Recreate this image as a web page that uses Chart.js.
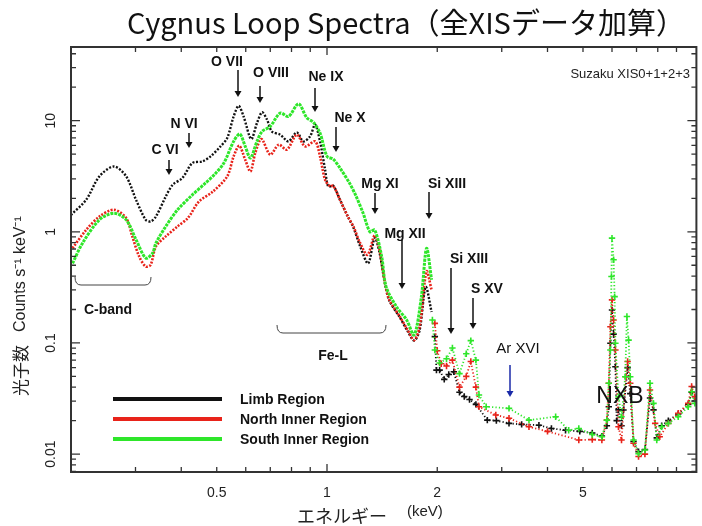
<!DOCTYPE html>
<html>
<head>
<meta charset="utf-8">
<script src="https://cdn.jsdelivr.net/npm/chart.js@4"></script>
<style>
  html, body { margin: 0; padding: 0; background: #fff; }
</style>
</head>
<body>
<canvas id="spec" width="702" height="526"></canvas>
<script>
// [energy keV, counts s-1 keV-1]
const limbSoft = [
  [0.200, 1.42], [0.220, 1.94], [0.239, 3.15], [0.262, 3.87], [0.283, 3.15],
  [0.301, 1.94], [0.320, 1.28], [0.330, 1.24], [0.341, 1.37], [0.363, 2.08],
  [0.379, 2.65], [0.403, 3.05], [0.429, 4.16], [0.457, 4.30], [0.481, 4.77],
  [0.512, 5.87], [0.534, 6.98], [0.556, 10.9], [0.574, 13.6], [0.592, 10.9],
  [0.621, 6.84], [0.644, 9.53], [0.665, 11.9], [0.686, 10.2], [0.707, 8.0],
  [0.745, 7.48], [0.785, 6.51], [0.827, 7.85], [0.862, 6.51], [0.899, 7.22],
  [0.928, 9.2], [0.957, 6.51], [0.988, 3.62], [1.008, 2.56], [1.04, 2.6],
  [1.085, 1.94], [1.14, 1.37], [1.18, 1.10], [1.23, 0.75], [1.295, 0.52],
  [1.35, 0.88], [1.39, 0.66], [1.44, 0.34], [1.48, 0.24], [1.58, 0.17],
  [1.66, 0.128], [1.73, 0.105], [1.79, 0.13], [1.86, 0.32], [1.93, 0.19]
];
const limbHard = [
  [1.97, 0.114], [1.99, 0.057], [2.03, 0.057], [2.09, 0.047], [2.15, 0.052],
  [2.22, 0.055], [2.30, 0.036], [2.37, 0.033], [2.45, 0.031], [2.55, 0.028],
  [2.74, 0.0202], [2.9, 0.020], [3.14, 0.0189], [3.4, 0.0185], [3.79, 0.0182],
  [4.1, 0.017], [4.48, 0.0164], [4.9, 0.016], [5.3, 0.0155], [5.63, 0.0145],
  [5.81, 0.018], [5.88, 0.0267], [5.94, 0.0993], [6.0, 0.198], [6.06, 0.12],
  [6.13, 0.061], [6.18, 0.02], [6.25, 0.025], [6.37, 0.018], [6.45, 0.0249],
  [6.62, 0.06], [6.73, 0.035], [6.87, 0.013], [7.09, 0.0105], [7.38, 0.011],
  [7.62, 0.032], [7.79, 0.025], [7.95, 0.014], [8.2, 0.018], [8.55, 0.02],
  [9.1, 0.023], [9.69, 0.028], [9.9, 0.036], [10.1, 0.03]
];
const northSoft = [
  [0.202, 0.713], [0.220, 1.04], [0.239, 1.37], [0.262, 1.58], [0.283, 1.33],
  [0.294, 0.91], [0.307, 0.60], [0.320, 0.487], [0.330, 0.505], [0.341, 0.737],
  [0.363, 0.91], [0.391, 1.12], [0.417, 1.33], [0.447, 1.87], [0.488, 2.3],
  [0.534, 3.15], [0.556, 4.77], [0.576, 5.95], [0.598, 4.45], [0.618, 3.49],
  [0.637, 5.12], [0.662, 6.84], [0.70, 4.94], [0.738, 6.08], [0.777, 5.48],
  [0.827, 7.48], [0.871, 5.87], [0.928, 6.51], [0.957, 4.77], [0.988, 2.94],
  [1.02, 2.56], [1.04, 2.6], [1.085, 1.94], [1.14, 1.37], [1.18, 1.12],
  [1.23, 0.80], [1.29, 0.62], [1.35, 0.93], [1.39, 0.69], [1.44, 0.345],
  [1.48, 0.244], [1.58, 0.173], [1.66, 0.131], [1.73, 0.106], [1.79, 0.14],
  [1.87, 0.44], [1.93, 0.30]
];
const northHard = [
  [1.97, 0.15], [2.0, 0.085], [2.05, 0.065], [2.12, 0.062], [2.2, 0.070],
  [2.3, 0.040], [2.4, 0.050], [2.47, 0.068], [2.55, 0.04], [2.6, 0.0267],
  [2.89, 0.0225], [3.14, 0.021], [3.56, 0.0176], [4.0, 0.016], [4.87, 0.0134],
  [5.3, 0.0135], [5.63, 0.0134], [5.81, 0.0202], [5.88, 0.0434], [5.94, 0.140],
  [6.0, 0.244], [6.06, 0.161], [6.13, 0.0865], [6.25, 0.0176], [6.37, 0.0134],
  [6.55, 0.0497], [6.62, 0.068], [6.73, 0.0434], [6.87, 0.0125], [7.09, 0.0095],
  [7.38, 0.010], [7.62, 0.0377], [7.87, 0.0189], [8.1, 0.0143], [8.55, 0.0189],
  [9.1, 0.0233], [9.69, 0.0286], [9.9, 0.0405], [10.1, 0.0328]
];
const southSoft = [
  [0.202, 0.52], [0.215, 0.79], [0.239, 1.28], [0.262, 1.47], [0.283, 1.28],
  [0.301, 0.85], [0.320, 0.58], [0.334, 0.643], [0.341, 0.79], [0.363, 1.12],
  [0.391, 1.58], [0.429, 2.15], [0.466, 2.75], [0.494, 3.3], [0.523, 4.16],
  [0.556, 6.51], [0.578, 7.59], [0.598, 5.87], [0.618, 4.61], [0.644, 6.51],
  [0.665, 8.0], [0.70, 8.89], [0.745, 11.7], [0.785, 10.9], [0.836, 14.2],
  [0.881, 10.6], [0.918, 9.66], [0.957, 7.75], [1.0, 4.77], [1.04, 4.5],
  [1.085, 3.75], [1.155, 2.7], [1.2, 2.1], [1.255, 1.47], [1.31, 1.0],
  [1.35, 1.04], [1.41, 0.60], [1.45, 0.32], [1.55, 0.21], [1.65, 0.161],
  [1.73, 0.118], [1.81, 0.26], [1.87, 0.71], [1.93, 0.37]
];
const southHard = [
  [1.94, 0.161], [1.97, 0.0865], [2.03, 0.066], [2.12, 0.072], [2.2, 0.09],
  [2.3, 0.053], [2.4, 0.08], [2.47, 0.105], [2.55, 0.07], [2.6, 0.034],
  [2.72, 0.0267], [3.14, 0.0258], [3.56, 0.0202], [4.21, 0.0217], [4.57, 0.0164],
  [4.87, 0.017], [5.3, 0.015], [5.63, 0.0143], [5.81, 0.0202], [5.88, 0.0434],
  [5.94, 0.0865], [5.98, 0.396], [6.0, 0.877], [6.06, 0.56], [6.10, 0.261],
  [6.13, 0.0993], [6.25, 0.0328], [6.37, 0.0217], [6.52, 0.0497], [6.59, 0.173],
  [6.66, 0.106], [6.73, 0.0497], [6.87, 0.0134], [7.09, 0.0101], [7.38, 0.0109],
  [7.62, 0.0434], [7.79, 0.0286], [7.95, 0.0134], [8.2, 0.0176], [8.55, 0.0189],
  [9.1, 0.0217], [9.69, 0.0267], [9.9, 0.0364], [10.1, 0.0286]
];

const regionNames = ['Limb Region', 'North Inner Region', 'South Inner Region'];
const regionColors = ['#111111', '#e8231a', '#2ee62a'];
const xTickLabels = [0.5, 1, 2, 5];
const xMinorTicks = [0.3, 0.4, 0.5, 0.6, 0.7, 0.8, 0.9, 2, 3, 4, 5, 6, 7, 8, 9];
const yTickLabels = [0.01, 0.1, 1, 10];

const xy = arr => arr.map(p => ({ x: p[0], y: p[1] }));

function softSet(data, i, dash, width) {
  return {
    label: regionNames[i], data: xy(data), showLine: true,
    borderColor: regionColors[i], borderWidth: width, borderDash: dash,
    pointRadius: 0, tension: 0.3, order: 3 - i
  };
}
function hardSet(data, i) {
  return {
    label: regionNames[i], data: xy(data), showLine: true,
    borderColor: regionColors[i], borderWidth: 1.8, borderDash: [1.2, 2.2],
    pointStyle: 'cross', pointRadius: 3.2, pointBorderWidth: 1.6,
    pointBorderColor: regionColors[i], order: 3 - i
  };
}

const decor = {
  id: 'decor',
  beforeDraw(chart) {
    const c = chart.ctx;
    c.save();
    c.fillStyle = '#fff';
    c.fillRect(0, 0, chart.width, chart.height);
    c.restore();
  },
  afterDraw(chart) {
    const c = chart.ctx, a = chart.chartArea;
    const xs = chart.scales.x, ys = chart.scales.y;
    c.save();

    // frame
    c.strokeStyle = '#333';
    c.lineWidth = 2;
    c.strokeRect(a.left, a.top, a.right - a.left, a.bottom - a.top);

    // y ticks (inside, both sides)
    c.lineWidth = 1.3;
    c.beginPath();
    yTickLabels.concat([0.001]).forEach(d => {
      for (let m = 1; m <= 9; m++) {
        const v = d * m;
        if (v < ys.min || v > ys.max) continue;
        const y = ys.getPixelForValue(v);
        const len = m === 1 ? 9 : 5;
        c.moveTo(a.left, y); c.lineTo(a.left + len, y);
        c.moveTo(a.right, y); c.lineTo(a.right - len, y);
      }
    });
    // x ticks (inside, both sides)
    xMinorTicks.concat([1]).forEach(v => {
      const x = xs.getPixelForValue(v);
      const len = v === 1 ? 8 : 5;
      c.moveTo(x, a.bottom); c.lineTo(x, a.bottom - len);
      c.moveTo(x, a.top); c.lineTo(x, a.top + len);
    });
    c.stroke();

    // tick labels
    c.fillStyle = '#222';
    c.font = '14px "Liberation Sans", Arial, sans-serif';
    c.textAlign = 'center';
    c.textBaseline = 'middle';
    xTickLabels.forEach(v => c.fillText(String(v), xs.getPixelForValue(v), a.bottom + 21));
    yTickLabels.forEach(v => {
      c.save();
      c.translate(a.left - 20, ys.getPixelForValue(v));
      c.rotate(-Math.PI / 2);
      c.fillText(String(v), 0, 0);
      c.restore();
    });

    // axis titles
    c.font = '18px "Noto Sans CJK JP", sans-serif';
    c.textAlign = 'left';
    c.fillText('エネルギー', 297, 516);
    c.font = '15px "Liberation Sans", Arial, sans-serif';
    c.fillText('(keV)', 407, 512);
    c.save();
    c.translate(21, 396);
    c.rotate(-Math.PI / 2);
    c.font = '17px "Noto Sans CJK JP", sans-serif';
    c.fillText('光子数', 0, 0);
    c.font = '16px "Liberation Sans", Arial, sans-serif';
    c.fillText('Counts s\u207B\u00B9 keV\u207B\u00B9', 64, 0);
    c.restore();

    // title
    c.font = '29px "Noto Sans CJK JP", sans-serif';
    c.textAlign = 'center';
    c.fillStyle = '#111';
    c.fillText('Cygnus Loop Spectra（全XISデータ加算）', 406, 23);

    // notes
    c.font = '13px "Liberation Sans", Arial, sans-serif';
    c.textAlign = 'right';
    c.fillStyle = '#222';
    c.fillText('Suzaku XIS0+1+2+3', 690, 74);

    // line labels with arrows
    const labels = [
      ['O VII', 227, 62, 238, 70, 97],
      ['O VIII', 271, 73, 260, 86, 103],
      ['Ne IX', 326, 77, 315, 88, 112],
      ['Ne X', 350, 118, 336, 127, 152],
      ['N VI', 184, 124, 189, 133, 148],
      ['C VI', 165, 150, 169, 160, 175],
      ['Mg XI', 380, 184, 375, 193, 214],
      ['Si XIII', 447, 184, 429, 192, 219],
      ['Mg XII', 405, 234, 402, 240, 289],
      ['Si XIII', 469, 259, 451, 268, 334],
      ['S XV', 487, 289, 473, 298, 329]
    ];
    c.font = 'bold 14px "Liberation Sans", Arial, sans-serif';
    c.textAlign = 'center';
    c.fillStyle = '#111';
    labels.forEach(l => c.fillText(l[0], l[1], l[2]));
    const arrow = (x, y0, y1, col) => {
      c.strokeStyle = col; c.fillStyle = col; c.lineWidth = 1.5;
      c.beginPath(); c.moveTo(x, y0); c.lineTo(x, y1 - 4); c.stroke();
      c.beginPath(); c.moveTo(x - 3.5, y1 - 6); c.lineTo(x + 3.5, y1 - 6); c.lineTo(x, y1); c.closePath(); c.fill();
    };
    labels.forEach(l => arrow(l[3], l[4], l[5], '#111'));

    c.font = '15px "Liberation Sans", Arial, sans-serif';
    c.fillStyle = '#111';
    c.fillText('Ar XVI', 518, 349);
    arrow(510, 365, 397, '#1a2aa8');

    c.font = '23px "Liberation Sans", Arial, sans-serif';
    c.fillStyle = '#111';
    c.fillText('NXB', 620, 397);

    // band brackets
    c.strokeStyle = '#444'; c.lineWidth = 1;
    const bracket = (x0, x1, y0, y1) => {
      c.beginPath();
      c.moveTo(x0, y0); c.quadraticCurveTo(x0, y1, x0 + 6, y1);
      c.lineTo(x1 - 6, y1); c.quadraticCurveTo(x1, y1, x1, y0);
      c.stroke();
    };
    bracket(75, 151, 277, 285);
    bracket(277, 386, 325, 333);
    c.font = 'bold 14px "Liberation Sans", Arial, sans-serif';
    c.fillStyle = '#111';
    c.fillText('C-band', 108, 310);
    c.fillText('Fe-L', 333, 356);

    // legend
    c.lineWidth = 4;
    c.textAlign = 'left';
    regionNames.forEach((n, i) => {
      const y = 399 + i * 20;
      c.strokeStyle = regionColors[i];
      c.beginPath(); c.moveTo(113, y); c.lineTo(222, y); c.stroke();
      c.fillStyle = '#111';
      c.fillText(n, 240, y + 1);
    });
    c.restore();
  }
};

new Chart(document.getElementById('spec'), {
  type: 'scatter',
  data: {
    datasets: [
      softSet(limbSoft, 0, [2, 1.6], 2.4), hardSet(limbHard, 0),
      softSet(northSoft, 1, [2, 1.4], 2.6), hardSet(northHard, 1),
      softSet(southSoft, 2, [3, 1], 3), hardSet(southHard, 2)
    ]
  },
  options: {
    responsive: false,
    devicePixelRatio: 1,
    animation: false,
    layout: { padding: { left: 71, right: 4, top: 47, bottom: 54 } },
    plugins: { legend: { display: false }, tooltip: { enabled: false } },
    scales: {
      x: { type: 'logarithmic', min: 0.2, max: 10.2, display: false },
      y: { type: 'logarithmic', min: 0.0069, max: 46, display: false }
    }
  },
  plugins: [decor]
});
</script>
</body>
</html>
